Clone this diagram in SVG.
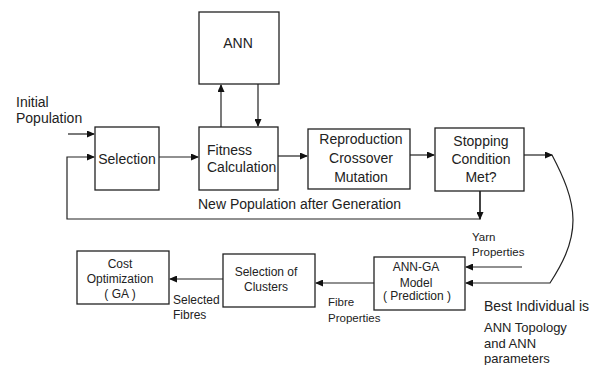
<svg xmlns="http://www.w3.org/2000/svg" width="596" height="365" viewBox="0 0 596 365">
<style>
.box{fill:#fff;stroke:#222;stroke-width:1.3}
.ln{fill:none;stroke:#222;stroke-width:1.2}
text{font-family:"Liberation Sans",Arial,sans-serif;fill:#222}
.t14{font-size:14px}
.t12{font-size:12px}
.t115{font-size:11.5px}
.t13{font-size:13px}
.c{text-anchor:middle}
</style>
<defs>
<marker id="ah" markerWidth="8" markerHeight="7" refX="7" refY="3.5" orient="auto" markerUnits="userSpaceOnUse">
<path d="M0,0 L8,3.5 L0,7 Z" fill="#111"/>
</marker>
</defs>
<rect width="596" height="365" fill="#fff"/>

<g id="connectors">
<line class="ln" x1="68" y1="134" x2="94" y2="134" marker-end="url(#ah)"/>
<line class="ln" x1="159" y1="157" x2="198" y2="157" marker-end="url(#ah)"/>
<line class="ln" x1="221" y1="127" x2="221" y2="85" marker-end="url(#ah)"/>
<line class="ln" x1="258" y1="84" x2="258" y2="126" marker-end="url(#ah)"/>
<line class="ln" x1="278" y1="156" x2="307" y2="156" marker-end="url(#ah)"/>
<line class="ln" x1="410" y1="155" x2="434" y2="155" marker-end="url(#ah)"/>
<line class="ln" x1="524" y1="155" x2="552" y2="155" marker-end="url(#ah)"/>
<polyline class="ln" points="480,191 480,219 67,219 67,157 94,157" marker-end="url(#ah)"/>
<line class="ln" x1="480" y1="191" x2="480" y2="219" marker-end="url(#ah)"/>
<path class="ln" d="M552 155 C563 176 573 198 573 220 C573 245 561 266 550 283 L466 283" marker-end="url(#ah)"/>
<line class="ln" x1="522" y1="267" x2="466" y2="267" marker-end="url(#ah)"/>
<line class="ln" x1="374" y1="283" x2="316" y2="283" marker-end="url(#ah)"/>
<line class="ln" x1="223" y1="279" x2="170" y2="279" marker-end="url(#ah)"/>
</g>

<g id="ann">
<rect class="box" x="199" y="12" width="80" height="72"/>
<text class="t14 c" x="238" y="48">ANN</text>
</g>
<g id="selection">
<rect class="box" x="95" y="127" width="64" height="63"/>
<text class="t14 c" x="127" y="164">Selection</text>
</g>
<g id="fitness">
<rect class="box" x="199" y="127" width="79" height="63"/>
<text class="t14" x="207" y="155">Fitness</text>
<text class="t14" x="207" y="172">Calculation</text>
</g>
<g id="reproduction">
<rect class="box" x="308" y="129" width="102" height="60"/>
<text class="t14 c" x="361" y="144">Reproduction</text>
<text class="t14 c" x="361" y="163">Crossover</text>
<text class="t14 c" x="361" y="182">Mutation</text>
</g>
<g id="stopping">
<rect class="box" x="435" y="128" width="89" height="63"/>
<text class="t14 c" x="481" y="146">Stopping</text>
<text class="t14 c" x="481" y="164">Condition</text>
<text class="t14 c" x="481" y="182">Met?</text>
</g>
<g id="annga">
<rect class="box" x="374" y="257" width="91" height="53"/>
<text class="t12 c" x="416" y="271">ANN-GA</text>
<text class="t12 c" x="416" y="287">Model</text>
<text class="t12 c" x="417" y="300">( Prediction )</text>
</g>
<g id="clusters">
<rect class="box" x="223" y="254" width="92" height="53"/>
<text class="t12 c" x="266" y="276">Selection of</text>
<text class="t12 c" x="266" y="291">Clusters</text>
</g>
<g id="cost">
<rect class="box" x="77" y="251" width="92" height="53"/>
<text class="t12 c" x="120" y="268">Cost</text>
<text class="t12 c" x="120" y="283">Optimization</text>
<text class="t12 c" x="120" y="298">( GA )</text>
</g>

<g id="labels">
<text class="t14" x="16" y="107">Initial</text>
<text class="t14" x="16" y="123">Population</text>
<text class="t14" x="198" y="209">New Population after Generation</text>
<text class="t115" x="472" y="241">Yarn</text>
<text class="t115" x="472" y="256">Properties</text>
<text class="t115" x="328" y="306">Fibre</text>
<text class="t115" x="328" y="322">Properties</text>
<text class="t12" x="173" y="304">Selected</text>
<text class="t12" x="173" y="319">Fibres</text>
<text class="t14" x="484" y="311">Best Individual is</text>
<text class="t13" x="484" y="332">ANN Topology</text>
<text class="t13" x="484" y="348">and ANN</text>
<text class="t13" x="484" y="363">parameters</text>
</g>
</svg>
